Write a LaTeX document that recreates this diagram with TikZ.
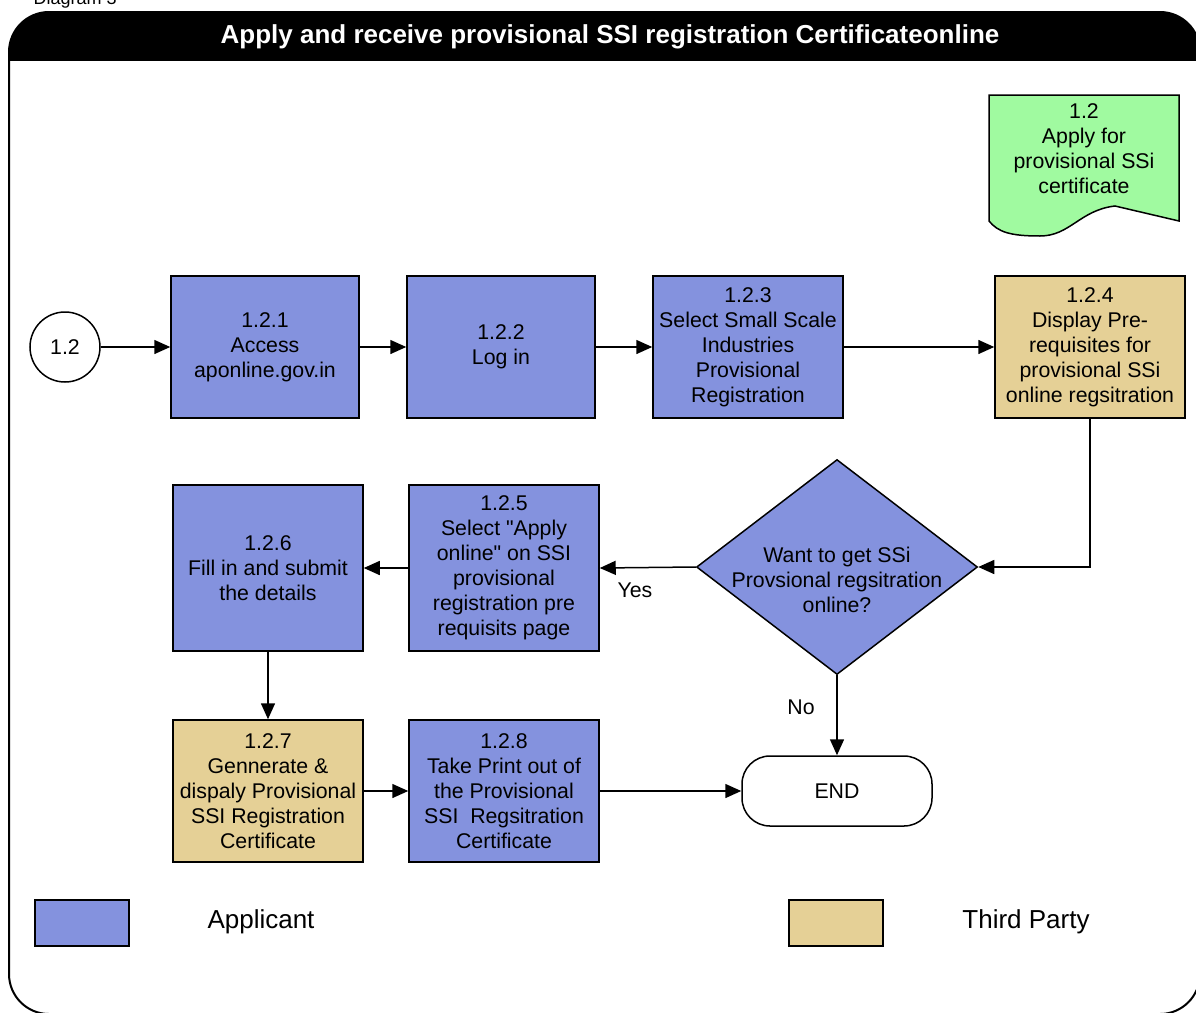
\documentclass[tikz,border=0pt]{standalone}
\usepackage{fontspec}
\setmainfont{Liberation Sans}[Ligatures=TeXOff]
\usepackage{xcolor}
\usepackage{tikz}
\usetikzlibrary{shapes.geometric,arrows.meta}

\definecolor{appblue}{RGB}{132,146,222}
\definecolor{thirdtan}{RGB}{229,208,150}
\definecolor{docgreen}{RGB}{160,250,160}

\tikzset{
  bodytext/.style={font=\fontsize{21.3}{25}\selectfont, align=center, inner sep=0pt},
  stepbox/.style={bodytext, draw=black, line width=1.5pt, fill=appblue,
    minimum width=188pt, minimum height=142pt},
  tallbox/.style={stepbox, minimum width=190pt, minimum height=166pt},
  thirdbox/.style={stepbox, fill=thirdtan},
  decision/.style={diamond, draw=black, line width=1.5pt, fill=appblue,
    minimum width=281pt, minimum height=215pt, inner sep=0pt},
  terminal/.style={bodytext, draw=black, line width=1.5pt, fill=white,
    rounded corners=28pt, minimum width=190pt, minimum height=70pt},
  legbox/.style={draw=black, line width=1.5pt, minimum width=94pt, minimum height=46pt},
  legtext/.style={font=\fontsize{26}{30}\selectfont},
  arr/.style={line width=1.5pt, -{Triangle[length=16pt,width=14pt]}}
}

\begin{document}
\begin{tikzpicture}[x=1pt, y=-1pt]
    \useasboundingbox (0,0) rectangle (1196,1012);

    % Caption, cut off at the top
    \node[anchor=base west, font=\fontsize{18}{20}\selectfont] (cap) at (30,4) {Diagram 3};

    % Frame with black title bar
    \begin{scope}
        \clip[rounded corners=40pt] (9,12) rectangle (1200,1014);
        \fill[black] (9,12) rectangle (1200,61);
    \end{scope}
    \draw[line width=2pt, rounded corners=40pt] (9,12) rectangle (1200,1014);
    \node[text=white, font=\bfseries\fontsize{26}{30}\selectfont] (title) at (610,37)
        {Apply and receive provisional SSI registration Certificateonline};

    % Document shape 1.2
    \draw[line width=1.5pt, fill=docgreen] (989,221) -- (989,95) -- (1179,95) -- (1179,221)
        -- (1115,206) .. controls (1080,210) and (1070,236) .. (1040,236)
        .. controls (1010,236) and (998,232) .. (989,221) -- cycle;
    \node[bodytext] (doc) at (1084,149) {1.2\\Apply for\\provisional SSi\\certificate};

    % First row
    \node[draw=black, line width=1.5pt, fill=white, circle, minimum size=70pt,
        bodytext] (start) at (65,347) {1.2};
    \node[stepbox] (access) at (265,347) {1.2.1\\Access\\aponline.gov.in};
    \node[stepbox] (login) at (501,347) {1.2.2\\Log in};
    \node[stepbox, minimum width=190pt] (select) at (748,347)
        {1.2.3\\Select Small Scale\\Industries\\Provisional\\Registration};
    \node[thirdbox, minimum width=190pt] (display) at (1090,347)
        {1.2.4\\Display Pre-\\requisites for\\provisional SSi\\online regsitration};

    % Second row
    \node[decision] (want) at (837,567) {};
    \node[bodytext] (wanttxt) at (837,580) {Want to get SSi\\Provsional regsitration\\online?};
    \node[tallbox] (apply) at (504,568)
        {1.2.5\\Select "Apply\\online" on SSI\\provisional\\registration pre\\requisits page};
    \node[tallbox] (fill) at (268,568) {1.2.6\\Fill in and submit\\the details};

    % Third row
    \node[thirdbox, minimum width=190pt] (gen) at (268,791)
        {1.2.7\\Gennerate \&\\dispaly Provisional\\SSI Registration\\Certificate};
    \node[stepbox, minimum width=190pt] (print) at (504,791)
        {1.2.8\\Take Print out of\\the Provisional\\SSI\ \ Regsitration\\Certificate};
    \node[terminal] (end) at (837,791) {END};

    % Connectors
    \draw[arr] (start) -- (access);
    \draw[arr] (access) -- (login);
    \draw[arr] (login) -- (select);
    \draw[arr] (select) -- (display);
    \draw[arr] (display.south) |- (want.east);
    \draw[arr] (want.west) -- (apply.east);
    \node[bodytext] (yes) at (635,590) {Yes};
    \draw[arr] (apply) -- (fill);
    \draw[arr] (fill) -- (gen);
    \draw[arr] (gen) -- (print);
    \draw[arr] (print) -- (end);
    \draw[arr] (want.south) -- (end.north);
    \node[bodytext] (no) at (801,707) {No};

    % Legend
    \node[legbox, fill=appblue] (legapp) at (82,923) {};
    \node[legtext] (legapptxt) at (261,922) {Applicant};
    \node[legbox, fill=thirdtan] (legthird) at (836,923) {};
    \node[legtext] (legthirdtxt) at (1026,922) {Third Party};
\end{tikzpicture}
\end{document}
